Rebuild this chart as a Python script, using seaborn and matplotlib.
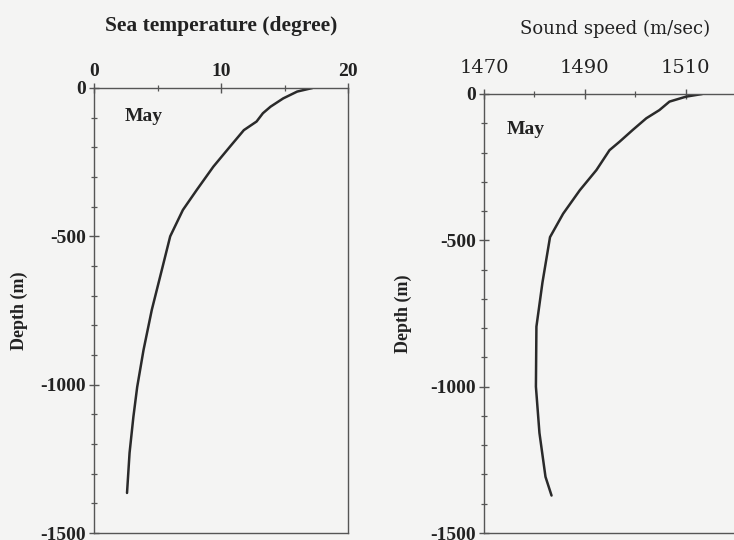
import matplotlib
matplotlib.use("Agg")
import matplotlib.pyplot as plt
from matplotlib.ticker import MultipleLocator, FixedLocator
import seaborn as sns
import pandas as pd

# Temperature profile (May)
temp_depth = [0, 12, 35, 63, 85, 113, 142, 198, 265, 343, 411, 500,
              603, 748, 883, 1008, 1109, 1230, 1365]
temp_value = [17.2, 16.0, 14.9, 13.9, 13.3, 12.8, 11.8, 10.7, 9.4, 8.1, 7.0, 6.0,
              5.4, 4.55, 3.9, 3.4, 3.1, 2.8, 2.6]

# Sound speed profile (May)
sound_depth = [0, 9, 26, 55, 83, 123, 163, 192, 260, 329, 409, 489,
               644, 795, 1000, 1158, 1308, 1372]
sound_value = [1513.3, 1510.1, 1506.8, 1504.8, 1502.2, 1499.5, 1496.9, 1494.9,
               1492.3, 1489.0, 1485.7, 1483.1, 1481.6, 1480.4, 1480.3, 1481.0,
               1482.2, 1483.4]

temp_ticks = [0, 10, 20]
sound_ticks = [1470, 1490, 1510]
depth_ticks = [0, -500, -1000, -1500]

sns.set_style("white")
plt.rcParams["font.family"] = ["Liberation Serif", "DejaVu Serif"]
plt.rcParams["axes.unicode_minus"] = False

bg = "#f4f4f3"
ink = "#2a2a2a"
txt = "#222222"
fig = plt.figure(figsize=(7.34, 5.40), dpi=100, facecolor=bg)

ax1 = fig.add_axes([94 / 734, 7 / 540, 254 / 734, 445 / 540])
ax2 = fig.add_axes([484 / 734, 7 / 540, 252 / 734, 439 / 540])

temp_df = pd.DataFrame({"value": temp_value, "elev": [-d for d in temp_depth]})
sound_df = pd.DataFrame({"value": sound_value, "elev": [-d for d in sound_depth]})

sns.lineplot(data=temp_df, x="value", y="elev", sort=False, estimator=None,
             color=ink, lw=1.8, ax=ax1)
sns.lineplot(data=sound_df, x="value", y="elev", sort=False, estimator=None,
             color=ink, lw=1.8, ax=ax2)


def style_axes(ax, xlim, xticks, xminor, xpad):
    ax.set_facecolor(bg)
    ax.set_xlim(*xlim)
    ax.set_ylim(-1500, 0)
    for s in ax.spines.values():
        s.set_color("#555555")
        s.set_linewidth(1.0)
    ax.xaxis.tick_top()
    ax.xaxis.set_label_position("top")
    ax.set_xticks(xticks)
    ax.xaxis.set_minor_locator(FixedLocator(xminor))
    ax.set_yticks(depth_ticks)
    ax.yaxis.set_minor_locator(MultipleLocator(100))
    ax.tick_params(axis="both", which="major", direction="inout", length=7,
                   width=1.0, color="#555555", labelsize=14, pad=2,
                   labelcolor=txt)
    ax.tick_params(axis="x", which="major", pad=xpad)
    ax.tick_params(axis="both", which="minor", direction="inout", length=5,
                   width=0.9, color="#555555")
    ax.tick_params(axis="x", which="both", top=True, bottom=False)
    ax.tick_params(axis="y", which="both", left=True, right=False)
    for lab in ax.get_yticklabels():
        lab.set_fontweight("bold")


style_axes(ax1, (0, 20), temp_ticks, [5, 15], 2)
style_axes(ax2, (1470, 1520), sound_ticks, [1480, 1500], 9)

# Left panel: bold Times-like lettering
for lab in ax1.get_xticklabels():
    lab.set_fontweight("bold")
ax1.set_xlabel("Sea temperature (degree)", fontsize=15.5, fontweight="bold",
               color=txt, labelpad=23)
ax1.set_ylabel("Depth (m)", fontsize=13, fontweight="bold", color=txt, labelpad=9)

# Right panel: wider, lighter lettering on the speed axis
for lab in ax2.get_xticklabels():
    lab.set_family(["DejaVu Serif"])
    lab.set_fontsize(14)
ax2.set_xlabel("Sound speed (m/sec)", fontsize=13, family=["DejaVu Serif"],
               color=txt)
ax2.xaxis.set_label_coords(0.52, 1.0 + 65 / 439)
ax2.xaxis.label.set_va("center")
ax2.set_ylabel("Depth (m)", fontsize=13, fontweight="bold", color=txt, labelpad=13.5)

ax1.text(0.12, 0.935, "May", transform=ax1.transAxes, fontsize=14,
         fontweight="bold", color=txt, va="center")
ax2.text(0.09, 0.92, "May", transform=ax2.transAxes, fontsize=14,
         fontweight="bold", color=txt, va="center")

fig.savefig("out.png", dpi=100, facecolor=bg)
